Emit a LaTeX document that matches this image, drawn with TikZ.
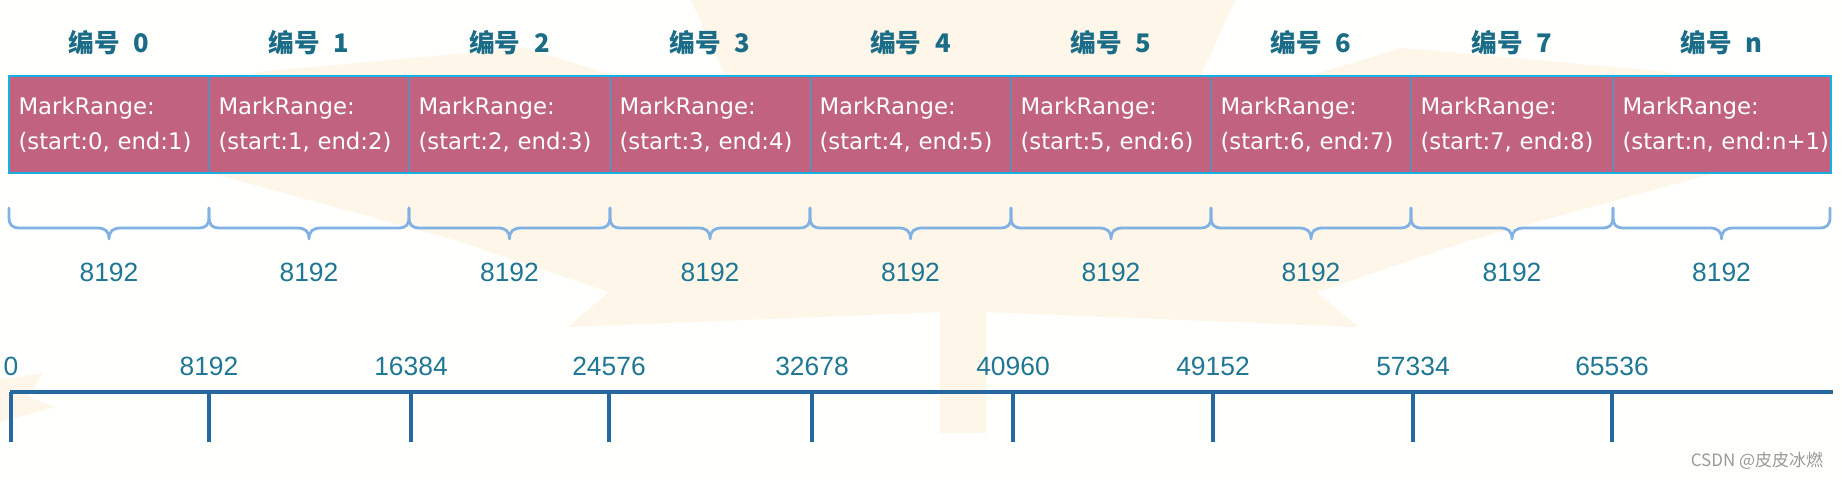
\documentclass[tikz,border=0pt]{standalone}
\usepackage{fontspec}
\setmainfont{DejaVu Sans}
\newfontfamily\cjk{Noto Sans CJK SC}
\newfontfamily\numfont{Liberation Sans}
\usepackage{tikz}
\usetikzlibrary{calc}

\definecolor{rosefill}{HTML}{C1637F}
\definecolor{cyanline}{HTML}{1AAFE3}
\definecolor{headteal}{HTML}{1B6C86}
\definecolor{numteal}{HTML}{1F7795}
\definecolor{axisblue}{HTML}{2669A1}
\definecolor{bracecol}{HTML}{82B1E3}
\definecolor{leafcream}{HTML}{FDF6E9}
\definecolor{paper}{HTML}{FFFFFD}

\tikzset{
    markbox/.style={draw=cyanline, line width=0.5pt, fill=rosefill, text=white, align=left,
        anchor=north west, minimum height=48pt, inner xsep=4.5pt,
        font=\fontsize{11.4}{17.5}\selectfont},
    hdr/.style={text=headteal, font=\cjk\bfseries\fontsize{12.8}{15}\selectfont},
    numlab/.style={text=numteal, font=\numfont\fontsize{13.2}{15}\selectfont},
    brc/.style={draw=bracecol, line width=1.4pt, line cap=round, line join=round},
    axisline/.style={draw=axisblue, line width=1.6pt},
    wm/.style={text=black!40, font=\cjk\fontsize{8.5}{10}\selectfont}
}

\begin{document}
\begin{tikzpicture}[x=0.5pt, y=-0.5pt]
        % Paper and faint maple leaf
        \fill[paper] (0,0) rectangle (1842,480);
        \useasboundingbox (0,0) rectangle (1842,480);
        \fill[leafcream] (940,433) -- (940,312) -- (568,327) -- (609,292) -- (455,240) -- (211,173)
            -- (150,120) -- (258,72) -- (524,48) -- (620,77) -- (745,115) -- (726,77) -- (691,0)
            -- (1235,0) -- (1200,77) -- (1181,115) -- (1306,77) -- (1402,48) -- (1668,72)
            -- (1776,120) -- (1715,173) -- (1471,240) -- (1317,292) -- (1358,327) -- (986,312)
            -- (986,433) -- cycle;
        \fill[leafcream] (0,380) -- (43,373) -- (28,397) -- (55,407) -- (0,422) -- cycle;

        % Mark ranges, braces and offsets
        \foreach \i/\xa/\xb/\s/\e/\tx/\lab in {0/9/209/0/1/11/0, 1/209/409/1/2/209/8192,
                2/409/610/2/3/411/16384, 3/610/810/3/4/609/24576, 4/810/1011/4/5/812/32678,
                5/1011/1211/5/6/1013/40960, 6/1211/1411/6/7/1213/49152,
                7/1411/1613/7/8/1413/57334, 8/1613/1830/n/n+1/1612/65536} {
            \pgfmathsetmacro\xc{(\xa+\xb)/2}
            \pgfmathsetmacro\tw{(\xb-\xa)*0.5-9}
            \node[markbox, text width=\tw pt] (mr\i) at (\xa,76) {MarkRange:\\(start:\s,~end:\e)};
            \node[hdr] (hd\i) at (\xc,43) {编号\hspace{0.55em}\s};
            % brace under the range
            \coordinate (bl\i) at (\xa,208);
            \coordinate (bm\i) at (\xc,239);
            \coordinate (br\i) at (\xb,208);
            \draw[brc] (bl\i) -- ++(0,9) .. controls +(0,8) and +(-8,0) .. ++(11,11)
                -- ($(bm\i)+(-12,-11)$) .. controls +(8,0) and +(0,-8) .. (bm\i)
                .. controls +(0,-8) and +(-8,0) .. ++(12,-11)
                -- ($(br\i)+(-11,20)$) .. controls +(8,0) and +(0,8) .. ++(11,-11) -- (br\i);
            \node[numlab] (sz\i) at (\xc,272) {8192};
            % ticks on the offset axis
            \coordinate (tk\i) at (\tx,392);
            \coordinate (tb\i) at (\tx,442);
            \draw[axisline] (tk\i) -- (tb\i);
            \node[numlab] (of\i) at (\tx,366) {\lab};
        }
        \draw[cyanline, line width=0.8pt] (mr0.north west) rectangle (mr8.south east);

        % Offset axis
        \coordinate (ax0) at (10,392);
        \coordinate (ax1) at (1833,392);
        \draw[axisline] (ax0) -- (ax1);

        % Watermark
        \node[wm] (csdn) at (1757,461) {CSDN @皮皮冰燃};
\end{tikzpicture}
\end{document}
